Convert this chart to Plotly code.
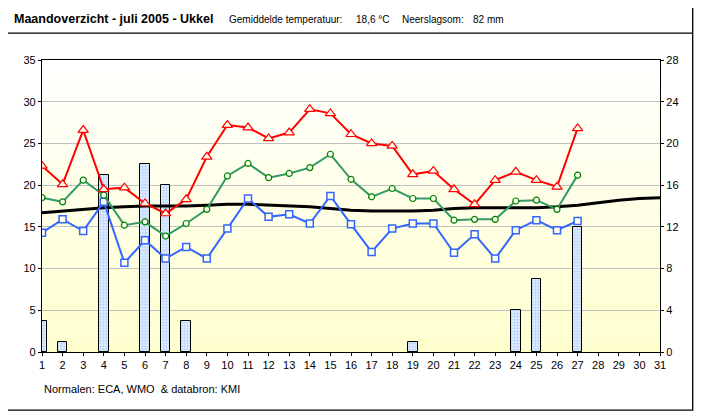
import plotly.graph_objects as go

days = list(range(1, 32))
t_days = list(range(1, 28))
t_max = [22.3, 20.1, 26.6, 19.5, 19.7, 17.8, 16.6, 18.3, 23.4, 27.2, 26.9, 25.6, 26.3, 29.1, 28.6,
         26.1, 25.0, 24.7, 21.3, 21.7, 19.5, 17.7, 20.6, 21.6, 20.6, 19.8, 26.8]
t_mean = [18.5, 18.0, 20.6, 18.8, 15.2, 15.6, 13.9, 15.4, 17.1, 21.1, 22.6, 20.9, 21.4, 22.1, 23.7,
          20.7, 18.6, 19.6, 18.4, 18.4, 15.8, 15.9, 15.9, 18.1, 18.2, 17.1, 21.2]
t_min = [14.3, 15.9, 14.5, 18.0, 10.7, 13.4, 11.2, 12.6, 11.2, 14.8, 18.4, 16.2, 16.5, 15.4, 18.7,
         15.3, 12.0, 14.8, 15.4, 15.4, 11.9, 14.1, 11.2, 14.6, 15.8, 14.6, 15.7]
t_normal = [16.7, 16.9, 17.1, 17.3, 17.4, 17.5, 17.5, 17.5, 17.6, 17.7, 17.7, 17.6, 17.5, 17.4, 17.2,
            17.0, 16.9, 16.9, 16.9, 17.0, 17.2, 17.3, 17.3, 17.3, 17.3, 17.4, 17.6, 17.9, 18.2, 18.4, 18.5]
rain_days = [1, 2, 4, 6, 7, 8, 19, 24, 25, 27]
rain_mm = [3.0, 1.0, 17.0, 18.0, 16.0, 3.0, 1.0, 4.0, 7.0, 12.0]

title_text = "Maandoverzicht - juli 2005 - Ukkel"
hdr_temp_label = "Gemiddelde temperatuur:"
hdr_temp_value = "18,6 °C"
hdr_rain_label = "Neerslagsom:"
hdr_rain_value = "82 mm"
footnote = "Normalen: ECA, WMO  &amp; databron: KMI"

# page offset (body margin) compensation
OX, OY = 8, 8
W, H = 702 - OX, 419 - OY
PLOT_X0, PLOT_X1, PLOT_Y0, PLOT_Y1 = 42.3, 660.3, 60.3, 352.0  # in window pixels
L = PLOT_X0 - OX
R = W - (PLOT_X1 - OX)
T = PLOT_Y0 - OY
B = H - (PLOT_Y1 - OY)
PW, PH = W - L - R, H - T - B

def px(x):
    return (x - OX - L) / PW

def py(y):
    return (H - B - (y - OY)) / PH

FONT = "Liberation Sans"

fig = go.Figure()

fig.add_trace(go.Bar(
    x=rain_days, y=rain_mm, width=0.46, yaxis="y",
    marker=dict(color="#C6DEFA", line=dict(color="black", width=1),
                pattern=dict(shape=".", fgcolor="#8CBCF2", bgcolor="#E6F0FF", size=3, solidity=0.5)),
    showlegend=False, hoverinfo="skip"))

fig.add_trace(go.Scatter(x=days, y=t_normal, yaxis="y2", mode="lines",
                         line=dict(color="black", width=3), showlegend=False))
fig.add_trace(go.Scatter(x=t_days, y=t_min, yaxis="y2", mode="lines+markers",
                         line=dict(color="#3366FF", width=2),
                         marker=dict(symbol="square", size=7, color="#FFFFEE",
                                     line=dict(color="#3366FF", width=1.5)), showlegend=False))
fig.add_trace(go.Scatter(x=t_days, y=t_mean, yaxis="y2", mode="lines+markers",
                         line=dict(color="#339966", width=2),
                         marker=dict(symbol="circle", size=6, color="#FFFFEE",
                                     line=dict(color="#008000", width=1.2)), showlegend=False))
fig.add_trace(go.Scatter(x=t_days, y=t_max, yaxis="y2", mode="lines+markers",
                         line=dict(color="#FF0000", width=2),
                         marker=dict(symbol="triangle-up", size=9, color="#FFFFEE",
                                     line=dict(color="#FF0000", width=1.2)), showlegend=False))

# background gradient (white at top to light yellow at bottom)
N = 60
shapes = []
for i in range(N):
    f = (i + 0.5) / N  # 0 bottom -> 1 top
    b = int(round(204 + (255 - 204) * f))
    shapes.append(dict(type="rect", xref="paper", yref="paper", x0=0, x1=1,
                       y0=i / N, y1=(i + 1) / N, layer="below",
                       line=dict(width=0), fillcolor=f"rgb(255,255,{b})"))
# outer frame and title separator
shapes.append(dict(type="rect", xref="paper", yref="paper", x0=px(5), x1=px(693),
                   y0=py(410), y1=py(4.5), line=dict(color="black", width=1.3), layer="above"))
shapes.append(dict(type="line", xref="paper", yref="paper", x0=px(5), x1=px(693),
                   y0=py(33.5), y1=py(33.5), line=dict(color="black", width=1.3)))

def ann(text, x, y, size, anchor="left", bold=False):
    return dict(text=f"<b>{text}</b>" if bold else text, x=px(x), y=py(y),
                xref="paper", yref="paper", xanchor=anchor, yanchor="middle",
                showarrow=False, font=dict(family=FONT, size=size, color="black"))

annotations = [
    ann(title_text, 12, 19.5, 12.5, bold=True),
    ann(hdr_temp_label, 227, 19.5, 10),
    ann(hdr_temp_value, 354, 19.5, 10),
    ann(hdr_rain_label, 466, 19.5, 10, anchor="right"),
    ann(hdr_rain_value, 471, 19.5, 10),
    ann(footnote, 42, 389, 11),
]

fig.update_layout(
    width=W, height=H, autosize=False,
    margin=dict(l=L, r=R, t=T, b=B, pad=0),
    paper_bgcolor="white", plot_bgcolor="rgba(0,0,0,0)",
    font=dict(family=FONT, size=11, color="black"),
    bargap=0,
    xaxis=dict(range=[1, 31], tickmode="linear", tick0=1, dtick=1, showgrid=False,
               showline=True, linecolor="black", linewidth=1.3, mirror=True,
               ticks="outside", ticklen=3, tickcolor="black", zeroline=False,
               tickfont=dict(family=FONT, size=11)),
    yaxis=dict(range=[0, 28], tickmode="linear", tick0=0, dtick=4, side="right",
               showgrid=True, gridcolor="#C0C0C0", gridwidth=1,
               showline=True, linecolor="black", linewidth=1.3,
               ticks="outside", ticklen=3, tickcolor="black", zeroline=False,
               tickfont=dict(family=FONT, size=11)),
    yaxis2=dict(range=[0, 35], tickmode="linear", tick0=0, dtick=5, side="left",
                overlaying="y", showgrid=False,
                showline=True, linecolor="black", linewidth=1.3,
                ticks="outside", ticklen=3, tickcolor="black", zeroline=False,
                tickfont=dict(family=FONT, size=11)),
    shapes=shapes, annotations=annotations,
)

fig.write_html("out.html")
